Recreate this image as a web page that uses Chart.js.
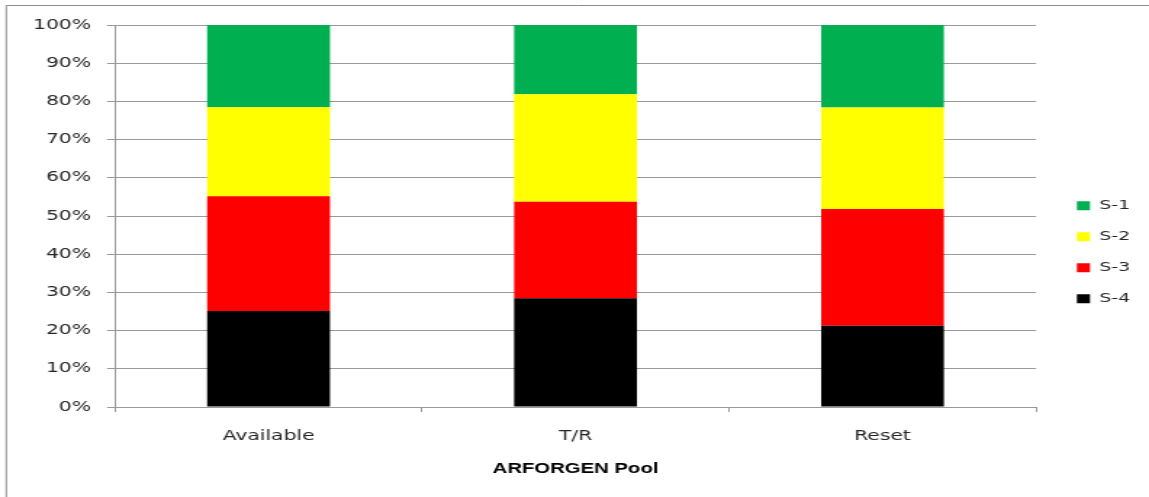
<!DOCTYPE html>
<html>
<head>
<meta charset="utf-8">
<title>ARFORGEN Pool</title>
<script src="https://cdn.jsdelivr.net/npm/chart.js@4/dist/chart.umd.min.js"></script>
<style>
  html, body { margin: 0; padding: 0; background: #fff; overflow: hidden; }
  /* The chart is laid out narrow and widened horizontally, like the wide Excel export it comes from */
  #wrap {
    position: absolute; left: 0; top: 0;
    width: 792px; height: 497px;
    transform: scaleX(1.4508);
    transform-origin: 0 0;
  }
</style>
</head>
<body>
<div id="wrap"><canvas id="chart"></canvas></div>
<script>
// Pool categories
const categories = ['Available', 'T/R', 'Reset'];

// Share of each readiness level per pool (percent)
const s1 = [21.5, 18.1, 21.6];
const s2 = [23.3, 28.2, 26.6];
const s3 = [30.1, 25.2, 30.5];
const s4 = [25.1, 28.5, 21.3];

const seriesNames = ['S-1', 'S-2', 'S-3', 'S-4'];
const seriesColors = ['#00B050', '#FFFF00', '#FF0000', '#000000'];

const yTickStep = 10;
const yMax = 100;

const GRID = '#9a9a9a';
const TEXT = '#262626';
const TICK_FONT = { family: 'DejaVu Sans', size: 14 };

// Thin outer frame around the chart
const framePlugin = {
  id: 'frame',
  beforeDraw(chart) {
    const ctx = chart.ctx;
    ctx.save();
    ctx.strokeStyle = '#8c8c8c';
    ctx.lineWidth = 1;
    ctx.beginPath();
    ctx.moveTo(4.3, chart.height + 2);
    ctx.lineTo(4.3, 5.5);
    ctx.lineTo(chart.width + 2, 5.5);
    ctx.stroke();
    ctx.restore();
  }
};

// Place the legend block beside the plot, vertically near the middle
const legendPlace = {
  id: 'legendPlace',
  afterLayout(chart) {
    const lg = chart.legend;
    if (!lg) return;
    const pad = lg.options.labels.padding;
    const w = lg.width;
    lg.left = 742.3 - pad;
    lg.right = lg.left + w;
    const colH = (lg.columnSizes && lg.columnSizes[0]) ? lg.columnSizes[0].height : 0;
    const start = (lg.top + pad + lg.bottom - colH) / 2;
    const delta = 199.2 - start;
    lg.top += delta;
    lg.bottom += delta;
  }
};

const datasets = [
  { label: seriesNames[3], data: s4, backgroundColor: seriesColors[3] },
  { label: seriesNames[2], data: s3, backgroundColor: seriesColors[2] },
  { label: seriesNames[1], data: s2, backgroundColor: seriesColors[1] },
  { label: seriesNames[0], data: s1, backgroundColor: seriesColors[0] }
].map(d => Object.assign(d, {
  borderWidth: 0,
  barPercentage: 0.4,
  categoryPercentage: 1.0
}));

new Chart(document.getElementById('chart'), {
  type: 'bar',
  data: { labels: categories, datasets },
  options: {
    responsive: true,
    maintainAspectRatio: false,
    animation: false,
    events: [],
    layout: { padding: { top: 25, left: 0, right: 13.2, bottom: 0 } },
    plugins: {
      tooltip: { enabled: false },
      legend: {
        position: 'right',
        reverse: true,
        labels: {
          boxWidth: 9,
          boxHeight: 9,
          padding: 18,
          color: TEXT,
          font: { family: 'DejaVu Sans', size: 13 }
        }
      }
    },
    scales: {
      x: {
        stacked: true,
        grid: {
          offset: true,
          drawOnChartArea: false,
          drawTicks: true,
          tickLength: 5,
          color: GRID
        },
        border: { display: true, color: GRID, width: 1 },
        ticks: { color: TEXT, font: TICK_FONT, padding: 16, maxRotation: 0 },
        title: {
          display: true,
          text: 'ARFORGEN Pool',
          color: '#000',
          font: { family: 'Liberation Sans', size: 14, weight: 'bold' },
          padding: { top: 4, bottom: 19 }
        },
        afterFit(scale) { scale.height = 90; }
      },
      y: {
        stacked: true,
        min: 0,
        max: yMax,
        grid: { color: GRID, tickLength: 5.5, lineWidth: 1 },
        border: { display: true, color: GRID, width: 1 },
        ticks: {
          stepSize: yTickStep,
          color: TEXT,
          font: TICK_FONT,
          padding: 11,
          callback: v => v + '%'
        },
        afterFit(scale) { scale.width = 79.3; }
      }
    }
  },
  plugins: [framePlugin, legendPlace]
});
</script>
</body>
</html>
